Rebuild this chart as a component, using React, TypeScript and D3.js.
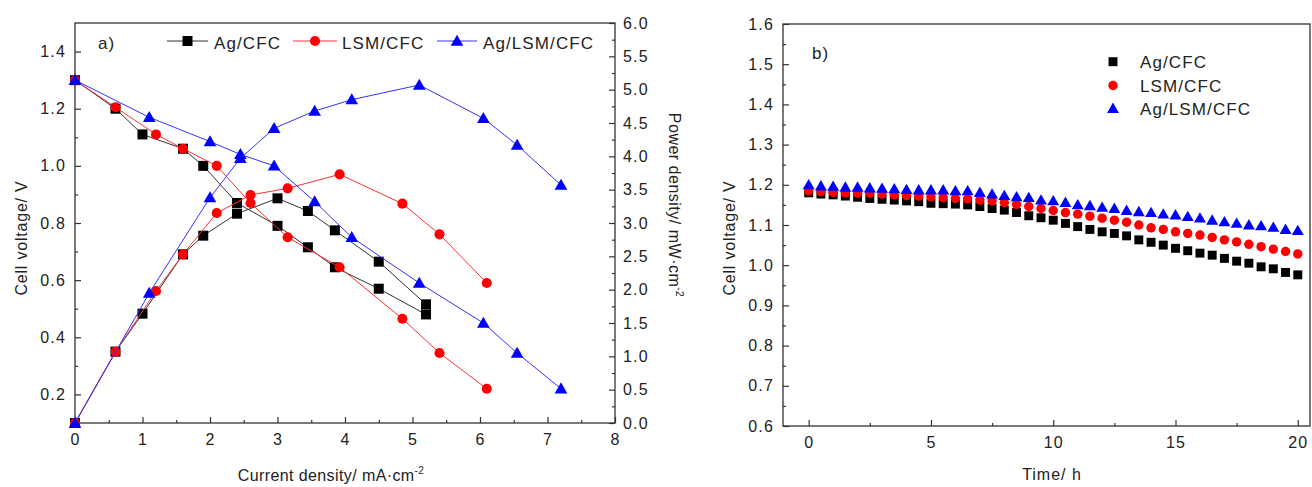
import React, { useEffect, useRef } from 'react';
import * as d3 from 'd3';

// panel a) polarisation data (current density / mA cm-2)
const agX = [0, 0.6, 1.0, 1.6, 1.9, 2.4, 3.0, 3.45, 3.85, 4.5, 5.2];
const agV = [1.30, 1.20, 1.11, 1.06, 1.00, 0.87, 0.79, 0.715, 0.645, 0.57, 0.48];
const agP = [0, 1.07, 1.64, 2.53, 2.81, 3.14, 3.37, 3.18, 2.89, 2.42, 1.78];

const lsmX = [0, 0.6, 1.2, 1.6, 2.1, 2.6, 3.15, 3.92, 4.85, 5.4, 6.1];
const lsmV = [1.30, 1.205, 1.11, 1.06, 1.00, 0.87, 0.75, 0.645, 0.465, 0.345, 0.22];
const lsmP = [0, 1.07, 1.98, 2.53, 3.15, 3.42, 3.52, 3.73, 3.29, 2.83, 2.10];

const agLsmX = [0, 1.1, 2.0, 2.45, 2.95, 3.55, 4.1, 5.1, 6.05, 6.55, 7.2];
const agLsmV = [1.30, 1.17, 1.085, 1.04, 1.00, 0.875, 0.75, 0.59, 0.45, 0.345, 0.22];
const agLsmP = [0, 1.95, 3.38, 3.97, 4.42, 4.68, 4.85, 5.07, 4.57, 4.17, 3.57];

// panel b) stability test, every 0.5 h
const timeH = [0, 0.5, 1, 1.5, 2, 2.5, 3, 3.5, 4, 4.5, 5, 5.5, 6, 6.5, 7, 7.5, 8, 8.5, 9, 9.5, 10,
  10.5, 11, 11.5, 12, 12.5, 13, 13.5, 14, 14.5, 15, 15.5, 16, 16.5, 17, 17.5, 18, 18.5, 19, 19.5, 20];
const agStab = [1.180, 1.177, 1.175, 1.172, 1.169, 1.166, 1.164, 1.162, 1.160, 1.158, 1.154,
  1.153, 1.152, 1.150, 1.146, 1.141, 1.137, 1.131, 1.123, 1.118, 1.112,
  1.104, 1.096, 1.089, 1.083, 1.079, 1.073, 1.063, 1.057, 1.050, 1.042,
  1.036, 1.030, 1.025, 1.017, 1.010, 1.005, 0.996, 0.991, 0.982, 0.976];
const lsmStab = [1.185, 1.183, 1.181, 1.180, 1.179, 1.179, 1.177, 1.175, 1.173, 1.172, 1.170,
  1.168, 1.166, 1.165, 1.162, 1.160, 1.156, 1.151, 1.146, 1.141, 1.136,
  1.131, 1.127, 1.122, 1.117, 1.112, 1.107, 1.100, 1.093, 1.089, 1.083,
  1.079, 1.075, 1.069, 1.063, 1.058, 1.052, 1.046, 1.040, 1.034, 1.028];
const agLsmStab = [1.200, 1.197, 1.196, 1.194, 1.194, 1.192, 1.191, 1.190, 1.188, 1.187, 1.187,
  1.187, 1.185, 1.185, 1.181, 1.177, 1.173, 1.170, 1.168, 1.162, 1.160,
  1.156, 1.150, 1.148, 1.144, 1.141, 1.136, 1.133, 1.131, 1.127, 1.125,
  1.121, 1.117, 1.112, 1.108, 1.104, 1.100, 1.098, 1.094, 1.089, 1.086];

const seriesNames = ['Ag/CFC', 'LSM/CFC', 'Ag/LSM/CFC'];
const seriesColors = ['#000000', '#ff0000', '#0000ff'];
const lineColors = ['#333333', '#ff3030', '#3333ff'];

const FONT = "'Liberation Sans', Arial, sans-serif";
const TXT = '#222';

const App = () => {
  const ref = useRef<SVGSVGElement>(null);

  useEffect(() => {
    document.body.style.margin = '0';
    const svg = d3.select(ref.current);
    svg.selectAll('*').remove();
    svg.style('font-family', FONT);

    const symbols = [d3.symbolSquare, d3.symbolCircle, d3.symbolTriangle];

    const styleAxis = (g, fs = 16) => {
      g.select('.domain').remove();
      g.selectAll('line').attr('stroke', '#333').attr('stroke-width', 1.2);
      g.selectAll('text')
        .attr('fill', TXT)
        .style('font-size', fs + 'px')
        .style('font-family', FONT)
        .style('letter-spacing', '1.2px');
    };

    // ---------- panel a ----------
    const a = { l: 75, r: 615, t: 23, b: 423 };
    const x = d3.scaleLinear().domain([0, 8]).range([a.l, a.r]);
    const yV = d3.scaleLinear().domain([0.1, 1.5]).range([a.b, a.t]);
    const yP = d3.scaleLinear().domain([0, 6]).range([a.b, a.t]);

    const gA = svg.append('g');

    gA.append('g').attr('transform', `translate(0,${a.b})`)
      .call(d3.axisBottom(x).tickValues(d3.range(0.5, 8, 1)).tickSize(-3).tickFormat(() => ''))
      .call(styleAxis);
    gA.append('g').attr('transform', `translate(0,${a.b})`)
      .call(d3.axisBottom(x).tickValues(d3.range(0, 9, 1)).tickSize(-6).tickPadding(11).tickFormat(d3.format('d')))
      .call(styleAxis);

    gA.append('g').attr('transform', `translate(${a.l},0)`)
      .call(d3.axisLeft(yV).tickValues([0.1, 0.3, 0.5, 0.7, 0.9, 1.1, 1.3]).tickSize(-3).tickFormat(() => ''))
      .call(styleAxis);
    gA.append('g').attr('transform', `translate(${a.l},0)`)
      .call(d3.axisLeft(yV).tickValues([0.2, 0.4, 0.6, 0.8, 1.0, 1.2, 1.4]).tickSize(-6).tickPadding(9).tickFormat(d3.format('.1f')))
      .call(styleAxis);

    gA.append('g').attr('transform', `translate(${a.r},0)`)
      .call(d3.axisRight(yP).tickValues(d3.range(0.25, 6, 0.5)).tickSize(-3).tickFormat(() => ''))
      .call(styleAxis);
    gA.append('g').attr('transform', `translate(${a.r},0)`)
      .call(d3.axisRight(yP).tickValues(d3.range(0, 6.01, 0.5)).tickSize(-6).tickPadding(8).tickFormat(d3.format('.1f')))
      .call(styleAxis);

    gA.append('rect')
      .attr('x', a.l).attr('y', a.t)
      .attr('width', a.r - a.l).attr('height', a.b - a.t)
      .attr('fill', 'none').attr('stroke', '#333').attr('stroke-width', 1.3);

    const polar = [
      { xs: agX, v: agV, p: agP },
      { xs: lsmX, v: lsmV, p: lsmP },
      { xs: agLsmX, v: agLsmV, p: agLsmP },
    ];
    const symSizeA = [100, 80, 70];

    polar.forEach((s, i) => {
      [[s.v, yV], [s.p, yP]].forEach(([vals, ys]: any) => {
        const pts = s.xs.map((xv, k) => [x(xv), ys(vals[k])]);
        gA.append('path')
          .attr('d', d3.line()(pts as any))
          .attr('fill', 'none')
          .attr('stroke', lineColors[i])
          .attr('stroke-width', 1);
        gA.selectAll(null)
          .data(pts)
          .enter()
          .append('path')
          .attr('transform', d => `translate(${d[0]},${d[1] + (i === 2 ? 1 : 0)})`)
          .attr('d', d3.symbol().type(symbols[i]).size(symSizeA[i])())
          .attr('fill', seriesColors[i]);
      });
    });

    // legend a
    gA.append('text').attr('x', 98).attr('y', 49).text('a)')
      .attr('fill', TXT).style('font-size', '17px').style('letter-spacing', '1px');
    const legA = [
      { x0: 167, x1: 208, tx: 214 },
      { x0: 293, x1: 337, tx: 342 },
      { x0: 437, x1: 477, tx: 483 },
    ];
    legA.forEach((d, i) => {
      gA.append('line').attr('x1', d.x0).attr('x2', d.x1).attr('y1', 41).attr('y2', 41)
        .attr('stroke', lineColors[i]).attr('stroke-width', 1);
      gA.append('path')
        .attr('transform', `translate(${(d.x0 + d.x1) / 2},${41 + (i === 2 ? 1 : 0)})`)
        .attr('d', d3.symbol().type(symbols[i]).size(symSizeA[i])())
        .attr('fill', seriesColors[i]);
      gA.append('text').attr('x', d.tx).attr('y', 48.5).text(seriesNames[i])
        .attr('fill', TXT).style('font-size', '17px').style('letter-spacing', '1.1px');
    });

    // axis titles a
    gA.append('text')
      .attr('transform', 'translate(27,238) rotate(-90)')
      .attr('text-anchor', 'middle')
      .attr('fill', TXT).style('font-size', '16px').style('letter-spacing', '0.8px')
      .text('Cell voltage/ V');

    const tP = gA.append('text')
      .attr('transform', 'translate(669,205) rotate(90)')
      .attr('text-anchor', 'middle')
      .attr('fill', TXT).style('font-size', '16px').style('letter-spacing', '0.5px');
    tP.append('tspan').text('Power density/ mW·cm');
    tP.append('tspan').attr('dy', -7).style('font-size', '10px').text('-2');

    const tX = gA.append('text')
      .attr('x', 331).attr('y', 481)
      .attr('text-anchor', 'middle')
      .attr('fill', TXT).style('font-size', '16px').style('letter-spacing', '0.4px');
    tX.append('tspan').text('Current density/ mA·cm');
    tX.append('tspan').attr('dy', -7).style('font-size', '10px').text('-2');

    // ---------- panel b ----------
    const b = { l: 783, r: 1310, t: 24, b: 426 };
    const xb = d3.scaleLinear().domain([-1.05, 20.5]).range([b.l, b.r]);
    const yb = d3.scaleLinear().domain([0.6, 1.6]).range([b.b, b.t]);
    const gB = svg.append('g');

    gB.append('g').attr('transform', `translate(0,${b.b})`)
      .call(d3.axisBottom(xb).tickValues([2.5, 7.5, 12.5, 17.5]).tickSize(-3).tickFormat(() => ''))
      .call(styleAxis);
    gB.append('g').attr('transform', `translate(0,${b.b})`)
      .call(d3.axisBottom(xb).tickValues([0, 5, 10, 15, 20]).tickSize(-6).tickPadding(11).tickFormat(d3.format('d')))
      .call(styleAxis);
    gB.append('g').attr('transform', `translate(${b.l},0)`)
      .call(d3.axisLeft(yb).tickValues(d3.range(0.65, 1.6, 0.1)).tickSize(-3).tickFormat(() => ''))
      .call(styleAxis);
    gB.append('g').attr('transform', `translate(${b.l},0)`)
      .call(d3.axisLeft(yb).tickValues(d3.range(0.6, 1.601, 0.1)).tickSize(-6).tickPadding(9).tickFormat(d3.format('.1f')))
      .call(styleAxis);

    gB.append('rect')
      .attr('x', b.l).attr('y', b.t)
      .attr('width', b.r - b.l).attr('height', b.b - b.t)
      .attr('fill', 'none').attr('stroke', '#333').attr('stroke-width', 1.3);

    const stab = [agStab, lsmStab, agLsmStab];
    const symSizeB = [80, 70, 62];
    stab.forEach((vals, i) => {
      gB.selectAll(null)
        .data(vals)
        .enter()
        .append('path')
        .attr('transform', (d, k) => `translate(${xb(timeH[k])},${yb(d) + (i === 2 ? 1 : 0)})`)
        .attr('d', d3.symbol().type(symbols[i]).size(symSizeB[i])())
        .attr('fill', seriesColors[i]);
    });

    gB.append('text').attr('x', 812).attr('y', 59).text('b)')
      .attr('fill', TXT).style('font-size', '17px').style('letter-spacing', '1px');
    [61.7, 85.5, 108.5].forEach((yy, i) => {
      gB.append('path')
        .attr('transform', `translate(1113,${yy + (i === 2 ? 1 : 0)})`)
        .attr('d', d3.symbol().type(symbols[i]).size(symSizeB[i])())
        .attr('fill', seriesColors[i]);
      gB.append('text').attr('x', 1140).attr('y', yy + 6.5).text(seriesNames[i])
        .attr('fill', TXT).style('font-size', '17px').style('letter-spacing', '1.1px');
    });

    gB.append('text')
      .attr('transform', 'translate(735,238) rotate(-90)')
      .attr('text-anchor', 'middle')
      .attr('fill', TXT).style('font-size', '16px').style('letter-spacing', '0.8px')
      .text('Cell voltage/ V');
    gB.append('text')
      .attr('x', 1052).attr('y', 480)
      .attr('text-anchor', 'middle')
      .attr('fill', TXT).style('font-size', '16px').style('letter-spacing', '1px')
      .text('Time/ h');
  }, []);

  return <svg ref={ref} width={1312} height={487} style={{ display: 'block', background: '#fff' }} />;
};

export default App;
